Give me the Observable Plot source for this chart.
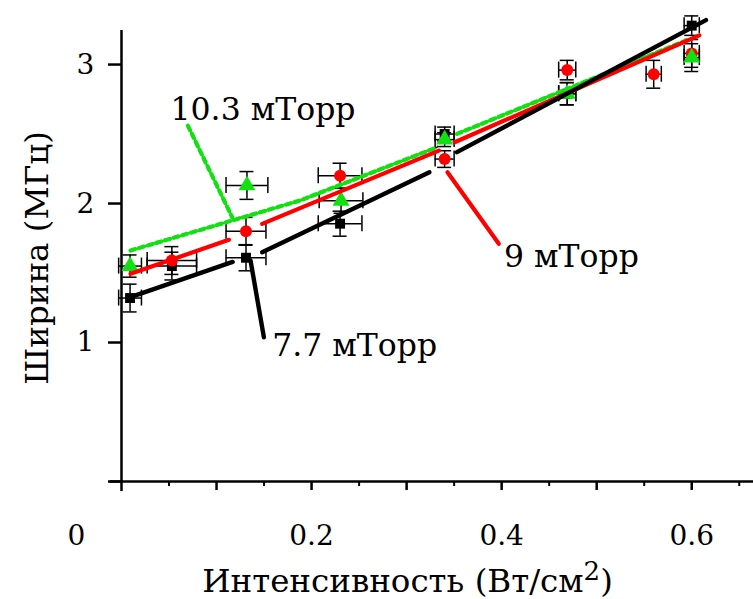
<!DOCTYPE html>
<html><head><meta charset="utf-8">
<script src="https://cdn.jsdelivr.net/npm/d3@7"></script>
<script src="https://cdn.jsdelivr.net/npm/@observablehq/plot@0.6"></script>
<style>body{margin:0;background:#fff} svg{display:block}</style>
</head><body><div id="chart"></div>
<script>
// ticks
const xTicksMajor = [0.1, 0.2, 0.3, 0.4, 0.5, 0.6];
const xTicksMinor = [0.05, 0.15, 0.25, 0.35, 0.45, 0.55, 0.65];
const xTickLabels = ["0.2", "0.4", "0.6"];
const xTickValues = [0.2, 0.4, 0.6];
const yTicks = [0, 1, 2, 3];
const yTickLabels = ["1", "2", "3"];
const yTickValues = [1, 2, 3];

// 7.7 mTorr (black squares)
const x77 = [0.009, 0.053, 0.131, 0.230, 0.340, 0.469, 0.600];
const y77 = [1.32, 1.55, 1.61, 1.855, 2.50, 2.79, 3.28];
const xe77 = [0.012, 0.026, 0.021, 0.023, 0.010, 0.009, 0.008];
const ye77 = [0.10, 0.10, 0.094, 0.09, 0.05, 0.08, 0.07];
// 9 mTorr (red circles)
const x9 = [0.053, 0.131, 0.230, 0.340, 0.469, 0.560, 0.600];
const y9 = [1.59, 1.80, 2.20, 2.32, 2.96, 2.93, 3.08];
const xe9 = [0.026, 0.021, 0.023, 0.010, 0.009, 0.008, 0.008];
const ye9 = [0.10, 0.10, 0.09, 0.06, 0.07, 0.10, 0.10];
// 10.3 mTorr (green triangles)
const x103 = [0.009, 0.132, 0.231, 0.340, 0.469, 0.600];
const y103 = [1.55, 2.13, 2.02, 2.46, 2.79, 3.05];
const xe103 = [0.012, 0.022, 0.023, 0.010, 0.009, 0.008];
const ye103 = [0.08, 0.10, 0.09, 0.05, 0.08, 0.10];

// fit lines (segments as drawn)
const fit77 = [[[0.011, 1.33], [0.117, 1.58]], [[0.148, 1.65], [0.324, 2.225]], [[0.353, 2.37], [0.615, 3.32]]];
const fit9 = [[[0.0095, 1.494], [0.113, 1.739]], [[0.148, 1.854], [0.334, 2.381]], [[0.3505, 2.441], [0.608, 3.21]]];
const fit103 = [[[0.0095, 1.662], [0.188, 2.022], [0.332, 2.405]], [[0.353, 2.501], [0.594, 3.173]]];

// leaders and labels
const lead77 = [[0.1358, 1.59], [0.1498, 1.038]];
const lead9 = [[0.343, 2.225], [0.397, 1.71]];
const lead103 = [[0.0698, 2.561], [0.1165, 1.901]];
const labelText = ["10.3 мТорр", "9 мТорр", "7.7 мТорр"];
const labelX = [0.0516, 0.4025, 0.1586];
const labelY = [2.60, 1.542, 0.906];

const xTitle = "Интенсивность (Вт/см2)";
const yTitle = "Ширина (МГц)";

const RED = "#ff0000", GREEN = "#11e011", BLACK = "#000000";

function pts(xs, ys, xe, ye) {
  return xs.map((x, i) => ({x, y: ys[i], xe: xe[i], ye: ye[i]}));
}
const P77 = pts(x77, y77, xe77, ye77);
const P9 = pts(x9, y9, xe9, ye9);
const P103 = pts(x103, y103, xe103, ye103);
const allP = [...P77, ...P9, ...P103];

function segRows(segs) {
  return segs.flatMap((s, k) => s.map(([x, y]) => ({x, y, k})));
}
const F77 = segRows(fit77), F9 = segRows(fit9), F103 = segRows(fit103);
const L77 = lead77.map(([x, y]) => ({x, y}));
const L9 = lead9.map(([x, y]) => ({x, y}));
const L103 = lead103.map(([x, y]) => ({x, y}));
const labels = labelText.map((t, i) => ({t, x: labelX[i], y: labelY[i]}));

const errMarks = [
  Plot.ruleX(allP, {x: "x", y1: d => d.y - d.ye, y2: d => d.y + d.ye, stroke: BLACK, strokeWidth: 1.5}),
  Plot.ruleY(allP, {y: d => d.y - d.ye, x1: "x", x2: "x", insetLeft: -7, insetRight: -7, stroke: BLACK, strokeWidth: 1.5}),
  Plot.ruleY(allP, {y: d => d.y + d.ye, x1: "x", x2: "x", insetLeft: -7, insetRight: -7, stroke: BLACK, strokeWidth: 1.5}),
  Plot.ruleY(allP, {y: "y", x1: d => d.x - d.xe, x2: d => d.x + d.xe, stroke: BLACK, strokeWidth: 1.5}),
  Plot.ruleX(allP, {x: d => d.x - d.xe, y1: "y", y2: "y", insetTop: -8, insetBottom: -8, stroke: BLACK, strokeWidth: 1.5}),
  Plot.ruleX(allP, {x: d => d.x + d.xe, y1: "y", y2: "y", insetTop: -8, insetBottom: -8, stroke: BLACK, strokeWidth: 1.5})
];

const chart = Plot.plot({
  width: 753,
  height: 599,
  marginLeft: 121,
  marginRight: 0,
  marginTop: 30,
  marginBottom: 118,
  x: {domain: [0, 0.665], axis: null},
  y: {domain: [0, 3.245], axis: null},
  style: {fontFamily: "'DejaVu Serif', serif", fontSize: "28px", background: "#fff", color: "#000", overflow: "visible"},
  marks: [
    // axes
    Plot.ruleY([0], {insetLeft: -11, stroke: BLACK, strokeWidth: 2.5}),
    Plot.ruleX([0], {insetBottom: -10, stroke: BLACK, strokeWidth: 2.5}),
    Plot.ruleX(xTicksMajor, {x: d => d, y1: 0, y2: 0, insetBottom: -9, stroke: BLACK, strokeWidth: 2.5}),
    Plot.ruleX(xTicksMinor, {x: d => d, y1: 0, y2: 0, insetBottom: -5, stroke: BLACK, strokeWidth: 2}),
    Plot.ruleY(yTicks, {y: d => d, x1: 0, x2: 0, insetLeft: -13, stroke: BLACK, strokeWidth: 2.5}),
    Plot.text(xTickValues, {x: d => d, y: 0, text: (d, i) => xTickLabels[i], dy: 63, lineAnchor: "bottom", fontSize: 28}),
    Plot.text(yTickValues, {x: 0, y: d => d, text: (d, i) => yTickLabels[i], dx: -36, fontSize: 28}),
    Plot.text(["0"], {frameAnchor: "bottom-left", textAnchor: "middle", dx: -45, dy: 63, lineAnchor: "bottom", fontSize: 28}),
    Plot.text([xTitle], {frameAnchor: "bottom", textAnchor: "middle", dx: -30, dy: 110, lineAnchor: "bottom", fontSize: 32.5, className: "xtitle"}),
    Plot.text([yTitle], {frameAnchor: "left", textAnchor: "middle", rotate: -90, dx: -74, dy: 2, lineAnchor: "bottom", fontSize: 32.5}),
    // error bars
    ...errMarks,
    // markers
    Plot.dot(P77, {x: "x", y: "y", symbol: "square", r: 5.6, fill: BLACK}),
    Plot.dot(P9, {x: "x", y: "y", symbol: "circle", r: 6, fill: RED}),
    Plot.dot(P103, {x: "x", y: "y", symbol: "triangle", r: 6.3, fill: GREEN}),
    // fit lines
    Plot.line(F103, {x: "x", y: "y", z: "k", stroke: BLACK, strokeWidth: 1.5}),
    Plot.line(F103, {x: "x", y: "y", z: "k", stroke: GREEN, strokeWidth: 4.2, strokeDasharray: "5,4"}),
    Plot.line(F9, {x: "x", y: "y", z: "k", stroke: RED, strokeWidth: 4.2}),
    Plot.line(F77, {x: "x", y: "y", z: "k", stroke: BLACK, strokeWidth: 4.4}),
    // leaders
    Plot.line(L103, {x: "x", y: "y", stroke: BLACK, strokeWidth: 1.5}),
    Plot.line(L103, {x: "x", y: "y", stroke: GREEN, strokeWidth: 4.2, strokeDasharray: "5,4"}),
    Plot.line(L9, {x: "x", y: "y", stroke: RED, strokeWidth: 4.2}),
    Plot.line(L77, {x: "x", y: "y", stroke: BLACK, strokeWidth: 4.4}),
    // labels
    Plot.text(labels, {x: "x", y: "y", text: "t", textAnchor: "start", lineAnchor: "bottom", fontSize: 31.5})
  ]
});
document.getElementById("chart").appendChild(chart);

// superscript "2" in x title
d3.select(chart).selectAll(".xtitle text").each(function () {
  const full = this.textContent;
  if (!full.endsWith("2)")) return;
  const base = full.slice(0, -2);
  const el = d3.select(this);
  el.text(null);
  el.append("tspan").text(base);
  el.append("tspan").attr("dy", "-0.45em").attr("font-size", "0.8em").text("2");
  el.append("tspan").attr("dy", "0.36em").text(")");
});
</script>
</body></html>
